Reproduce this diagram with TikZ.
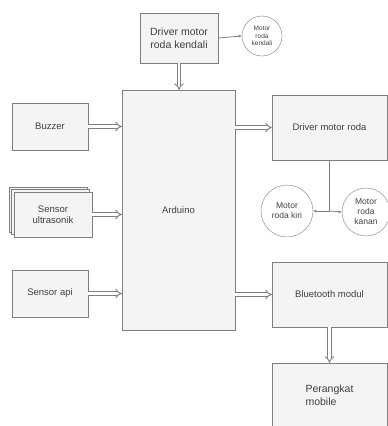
\documentclass[tikz,border=0pt]{standalone}
\usepackage{fontspec}
\setmainfont{Liberation Sans}
\usetikzlibrary{arrows.meta, calc, shadows}
\definecolor{boxline}{HTML}{7F7F7F}
\definecolor{boxfill}{HTML}{F4F4F4}
\definecolor{txtgray}{HTML}{404040}
\tikzset{
  blok/.style={draw=boxline, fill=boxfill, text=txtgray, font=\fontsize{9.5}{11.5}\selectfont, align=center, inner sep=1pt},
  bulat/.style={circle, draw=boxline, fill=white, text=txtgray, font=\fontsize{8.5}{10}\selectfont, align=center, inner sep=0pt},
  panah/.style={draw=boxline, double=white, double distance=2.4pt, line width=0.9pt, -{Implies[length=4pt]}},
  garis/.style={draw=boxline, line width=0.8pt}
}

\begin{document}
\begin{tikzpicture}[x=1pt, y=-1pt]
            \useasboundingbox (0,0) rectangle (388,426);
            % blok utama
            \node[blok, minimum width=113pt, minimum height=240pt] (arduino) at (178.5,210) {Arduino};
            \node[blok, minimum width=78pt, minimum height=50pt, font=\fontsize{10.5}{13}\selectfont] (kendali) at (179,38) {Driver motor\\roda kendali};
            \node[bulat, minimum size=40pt, font=\fontsize{6.5}{7.5}\selectfont] (motorkendali) at (262,36) {Motor\\roda\\kendali};
            % input
            \node[blok, minimum width=76pt, minimum height=47pt] (buzzer) at (50,126.5) {Buzzer};
            \node[blok, minimum width=78pt, minimum height=45pt, double copy shadow={shadow xshift=-2.5pt, shadow yshift=2.5pt, draw=boxline, fill=boxfill}] (ultrasonik) at (53,214.5) {Sensor\\ultrasonik};
            \node[blok, minimum width=76pt, minimum height=47pt] (api) at (50,293.5) {Sensor api};
            % output
            \node[blok, minimum width=115pt, minimum height=65pt] (drivermotor) at (329.5,127.5) {Driver motor roda};
            \node[bulat, minimum size=52pt] (kiri) at (287,211) {Motor\\roda kiri};
            \node[bulat, minimum size=48pt] (kanan) at (366,212) {Motor\\roda\\kanan};
            \node[blok, minimum width=115pt, minimum height=65pt] (bluetooth) at (329.5,294.5) {Bluetooth modul};
            \node[blok, minimum width=115pt, minimum height=64pt, align=left, font=\fontsize{10.5}{13}\selectfont] (perangkat) at (329.5,395) {Perangkat\\mobile};

            \coordinate (cabang) at (drivermotor.south |- kiri.east);% titik cabang motor

            \draw[panah] (kendali.south) -- (kendali.south |- arduino.north);
            \draw[garis, -{Stealth[length=3.5pt]}] (kendali.east) -- (motorkendali.west);
            \draw[panah] (buzzer.east) -- (buzzer.east -| arduino.west);
            \draw[panah] (ultrasonik.east) -- (ultrasonik.east -| arduino.west);
            \draw[panah] (api.east) -- (api.east -| arduino.west);
            \draw[panah] (arduino.east |- drivermotor.west) -- (drivermotor.west);
            \draw[panah] (arduino.east |- bluetooth.west) -- (bluetooth.west);
            \draw[panah] (bluetooth.south) -- (perangkat.north);
            \draw[garis] (drivermotor.south) -- (cabang);
            \draw[garis, -{Stealth[length=3.5pt]}] (cabang) -- (kiri.east);
            \draw[garis, -{Stealth[length=3.5pt]}] (cabang) -- (kanan.west);
        \end{tikzpicture}
\end{document}
